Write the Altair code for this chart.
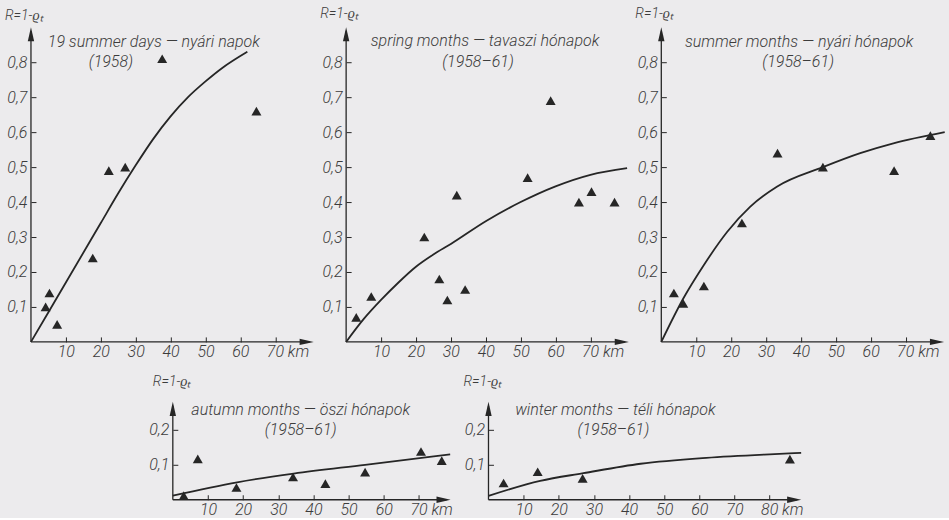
import altair as alt
import pandas as pd

# ---------------- data ----------------
p1_x = [4.2, 5.3, 7.5, 17.7, 22.3, 27.0, 37.6, 64.6]
p1_y = [0.10, 0.14, 0.05, 0.24, 0.49, 0.50, 0.81, 0.66]
c1_x = [0, 10, 20, 25, 30, 35, 40, 45, 50, 55, 62]
c1_y = [0, 0.17, 0.34, 0.425, 0.505, 0.58, 0.645, 0.70, 0.745, 0.785, 0.83]

p2_x = [2.9, 7.2, 22.4, 26.7, 29.0, 31.7, 34.1, 52.0, 58.6, 66.7, 70.3, 76.9]
p2_y = [0.07, 0.13, 0.30, 0.18, 0.12, 0.42, 0.15, 0.47, 0.69, 0.40, 0.43, 0.40]
c2_x = [0, 5, 10, 15, 20, 25, 30, 40, 50, 60, 70, 80.5]
c2_y = [0, 0.065, 0.12, 0.17, 0.215, 0.25, 0.28, 0.345, 0.40, 0.445, 0.478, 0.497]

p3_x = [3.6, 6.3, 12.2, 23.1, 33.3, 46.3, 66.7, 77.1]
p3_y = [0.14, 0.11, 0.16, 0.34, 0.54, 0.50, 0.49, 0.59]
c3_x = [0, 6.3, 12.2, 18.9, 25.5, 33.1, 46.3, 57, 66.5, 81.2]
c3_y = [0, 0.124, 0.22, 0.315, 0.387, 0.444, 0.50, 0.54, 0.568, 0.60]

p4_x = [3.1, 7.1, 18.1, 34.2, 43.4, 54.7, 70.6, 76.5]
p4_y = [0.012, 0.117, 0.035, 0.065, 0.046, 0.079, 0.138, 0.112]
c4_x = [0, 18.3, 34.4, 54.7, 78.9]
c4_y = [0.012, 0.05, 0.075, 0.10, 0.13]

p5_x = [4.3, 14.0, 26.8, 85.8]
p5_y = [0.048, 0.08, 0.061, 0.116]
c5_x = [0, 14.7, 27, 43.3, 62, 80, 89]
c5_y = [0.011, 0.054, 0.076, 0.103, 0.12, 0.13, 0.134]

titles = [
    ("19 summer days — nyári napok", "(1958)"),
    ("spring months — tavaszi hónapok", "(1958–61)"),
    ("summer months — nyári hónapok", "(1958–61)"),
    ("autumn months — öszi hónapok", "(1958–61)"),
    ("winter months — téli hónapok", "(1958–61)"),
]
y_label = "R=1-ϱₜ"
x_ticks_upper = [10, 20, 30, 40, 50, 60, 70]
x_ticks_p5 = [10, 20, 30, 40, 50, 60, 70, 80]
y_ticks_upper = [0.1, 0.2, 0.3, 0.4, 0.5, 0.6, 0.7, 0.8]
y_ticks_lower = [0.1, 0.2]

# ---------------- style ----------------
INK = "#262626"
TXT = "#3c3c3c"
FONT = "Roboto"
BG = "#ecebed"
ONE = alt.Data(values=[{"a": 1}])


def panel(px, py, cx, cy, xmax, ymax, w, h, xticks, yticks, title, t1, t2, rlab):
    pts = pd.DataFrame({"km": px, "R": py})
    crv = pd.DataFrame({"km": cx, "R": cy})
    last = xticks[-1]
    xsc = alt.Scale(domain=[0, xmax], nice=False, zero=True)
    ysc = alt.Scale(domain=[0, ymax], nice=False, zero=True)
    xax = alt.Axis(
        values=xticks, domain=False, grid=False, title=None, offset=-5,
        tickSize=5, tickColor=INK, tickWidth=1,
        labelFont=FONT, labelFontSize=16, labelFontStyle="italic",
        labelFontWeight=300, labelColor=TXT, labelPadding=2,
        labelExpr=f"datum.value == {last} ? '{last} km' : datum.label",
        labelAlign=alt.ExprRef(expr=f"datum.value == {last} ? 'left' : 'center'"),
        labelOffset=alt.ExprRef(expr=f"datum.value == {last} ? -9 : 0"),
    )
    yax = alt.Axis(
        values=yticks, domain=False, grid=False, title=None, offset=-5,
        tickSize=5, tickColor=INK, tickWidth=1,
        labelFont=FONT, labelFontSize=16, labelFontStyle="italic",
        labelFontWeight=300, labelColor=TXT, labelPadding=4,
        labelExpr="replace(format(datum.value, '.1f'), '.', ',')",
    )
    line = alt.Chart(crv).mark_line(
        interpolate="monotone", color=INK, strokeWidth=1.8
    ).encode(
        x=alt.X("km:Q", scale=xsc, axis=xax),
        y=alt.Y("R:Q", scale=ysc, axis=yax),
    )
    points = alt.Chart(pts).mark_point(
        shape="triangle-up", filled=True, color=INK, opacity=1, size=100
    ).encode(x=alt.X("km:Q", scale=xsc), y=alt.Y("R:Q", scale=ysc))
    xdom = alt.Chart(ONE).mark_rule(color=INK, strokeWidth=1.3).encode(
        x=alt.value(0), x2=alt.value(w - 4), y=alt.value(h)
    )
    ydom = alt.Chart(ONE).mark_rule(color=INK, strokeWidth=1.3).encode(
        x=alt.value(0), y=alt.value(4), y2=alt.value(h)
    )
    yarrow = alt.Chart(ONE).mark_point(
        shape="M-0.45,1 L0,-1 L0.45,1 Z", filled=True, color=INK, opacity=1,
        size=200, strokeWidth=0,
    ).encode(x=alt.value(0), y=alt.value(7))
    xarrow = alt.Chart(ONE).mark_point(
        shape="M-1,-0.45 L1,0 L-1,0.45 Z", filled=True, color=INK, opacity=1,
        size=200, strokeWidth=0,
    ).encode(x=alt.value(w - 7), y=alt.value(h))
    tl1 = alt.Chart(ONE).mark_text(
        text=title[0], font=FONT, fontSize=16, fontStyle="italic", fontWeight=300,
        color=TXT, align="center", baseline="middle",
    ).encode(x=alt.value(t1[0]), y=alt.value(t1[1]))
    tl2 = alt.Chart(ONE).mark_text(
        text=title[1], font=FONT, fontSize=16, fontStyle="italic", fontWeight=300,
        color=TXT, align="center", baseline="middle",
    ).encode(x=alt.value(t2[0]), y=alt.value(t2[1]))
    rl = alt.Chart(ONE).mark_text(
        text=y_label, font=FONT, fontSize=14, fontStyle="italic", fontWeight=300,
        color=TXT, align="left", baseline="middle",
    ).encode(x=alt.value(rlab[0]), y=alt.value(rlab[1]))
    return alt.layer(line, points, xdom, ydom, yarrow, xarrow, tl1, tl2, rl).properties(
        width=w, height=h
    )


UW, UH = 283, 315
LH = 98
c1 = panel(p1_x, p1_y, c1_x, c1_y, 81, 0.9, UW, UH, x_ticks_upper, y_ticks_upper,
           titles[0], (123, 14.5), (80, 34.5), (-26, -11))
c2 = panel(p2_x, p2_y, c2_x, c2_y, 81, 0.9, UW, UH, x_ticks_upper, y_ticks_upper,
           titles[1], (139, 13.5), (132, 34.5), (-26, -13))
c3 = panel(p3_x, p3_y, c3_x, c3_y, 81, 0.9, UW, UH, x_ticks_upper, y_ticks_upper,
           titles[2], (138, 14.5), (137, 34.5), (-26, -13))
c4 = panel(p4_x, p4_y, c4_x, c4_y, 79, 0.28, 278, LH, x_ticks_upper, y_ticks_lower,
           titles[3], (128, 8), (128, 28), (-20, -20))
c5 = panel(p5_x, p5_y, c5_x, c5_y, 89, 0.28, 313, LH, x_ticks_p5, y_ticks_lower,
           titles[4], (127, 8), (125, 28), (-25, -20))

spacer = alt.Chart(ONE).mark_point(opacity=0, size=1).encode(
    x=alt.value(0), y=alt.value(0)
).properties(width=104, height=LH)

top = alt.hconcat(c1, c2, c3, spacing=32.5, bounds="flush")
bottom = alt.hconcat(spacer, c4, c5, spacing=38, bounds="flush")

chart = alt.vconcat(top, bottom, spacing=15).properties(
    padding={"left": 5, "top": 7, "right": 0, "bottom": 0}
).configure(background=BG).configure_view(strokeWidth=0)

chart.save("out.html", embed_options={"renderer": "svg", "actions": False})
